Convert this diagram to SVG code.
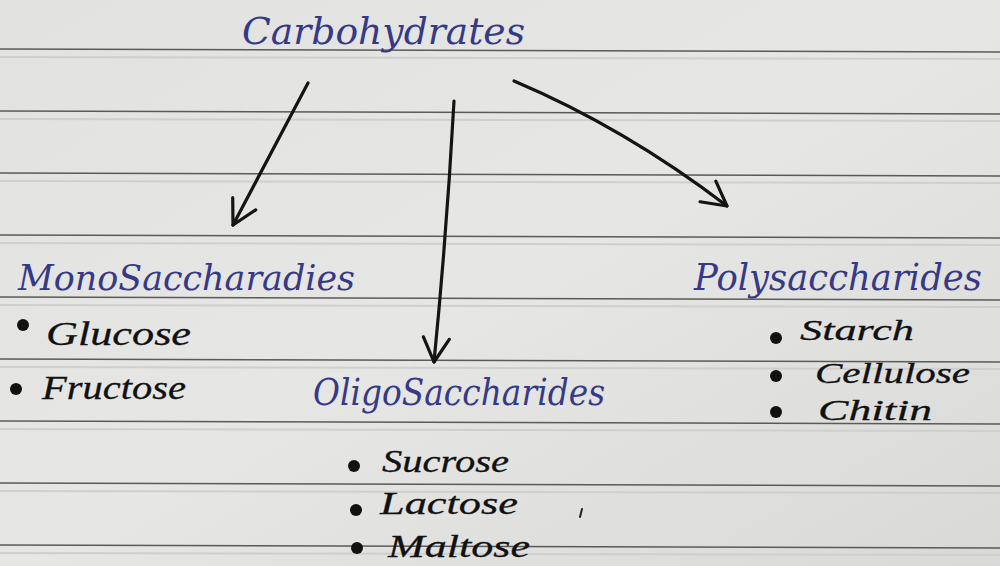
<svg xmlns="http://www.w3.org/2000/svg" width="1000" height="566" viewBox="0 0 1000 566">
  <defs>
    <linearGradient id="paper" x1="0" y1="0" x2="1" y2="1">
      <stop offset="0" stop-color="#e2e2e0"/>
      <stop offset="0.5" stop-color="#e6e6e4"/>
      <stop offset="1" stop-color="#d9d9d7"/>
    </linearGradient>
    <marker id="head" viewBox="0 0 30 30" refX="27" refY="15" markerWidth="30" markerHeight="30" markerUnits="userSpaceOnUse" orient="auto">
      <path d="M3,2 L27,15 L3,28" fill="none" stroke="#141414" stroke-width="3.2" stroke-linecap="round" stroke-linejoin="round"/>
    </marker>
    <style>
      .rule { stroke: #5a5a58; stroke-width: 1.6; }
      .rule2 { stroke: #cfcfcd; stroke-width: 2; }
      .head { font-family: "DejaVu Serif", "Liberation Serif", serif; font-style: italic; fill: #363a86; }
      .item { font-family: "Liberation Serif", "DejaVu Serif", serif; font-style: italic; fill: #111111; stroke: #111111; stroke-width: 0.3; }
      .dot { fill: #111111; }
      .conn { fill: none; stroke: #141414; stroke-width: 3.2; stroke-linecap: round; marker-end: url(#head); }
    </style>
  </defs>

  <rect x="0" y="0" width="1000" height="566" fill="url(#paper)"/>

  <g id="ruled-lines">
    <line class="rule2" x1="0" y1="57" x2="1000" y2="59"/>
    <line class="rule2" x1="0" y1="119" x2="1000" y2="121"/>
    <line class="rule2" x1="0" y1="181" x2="1000" y2="183"/>
    <line class="rule2" x1="0" y1="243" x2="1000" y2="245"/>
    <line class="rule2" x1="0" y1="305" x2="1000" y2="307"/>
    <line class="rule2" x1="0" y1="367" x2="1000" y2="369"/>
    <line class="rule2" x1="0" y1="429" x2="1000" y2="431"/>
    <line class="rule2" x1="0" y1="491" x2="1000" y2="493"/>
    <line class="rule2" x1="0" y1="553" x2="1000" y2="555"/>
    <line class="rule" x1="0" y1="49" x2="1000" y2="52"/>
    <line class="rule" x1="0" y1="111" x2="1000" y2="114"/>
    <line class="rule" x1="0" y1="173" x2="1000" y2="176"/>
    <line class="rule" x1="0" y1="235" x2="1000" y2="238"/>
    <line class="rule" x1="0" y1="297" x2="1000" y2="300"/>
    <line class="rule" x1="0" y1="359" x2="1000" y2="362"/>
    <line class="rule" x1="0" y1="421" x2="1000" y2="424"/>
    <line class="rule" x1="0" y1="483" x2="1000" y2="486"/>
    <line class="rule" x1="0" y1="545" x2="1000" y2="548"/>
  </g>

  <g id="connectors">
    <path class="conn" d="M308,83 L233,225"/>
    <path class="conn" d="M454,101 Q447,230 434,362"/>
    <path class="conn" d="M514,81 Q625,128 727,206"/>
  </g>

  <g id="carbohydrates">
    <text class="head" x="242" y="44" font-size="38" textLength="283" lengthAdjust="spacingAndGlyphs">Carbohydrates</text>
  </g>

  <g id="monosaccharides">
    <text class="head" x="18" y="290" font-size="36" textLength="337" lengthAdjust="spacingAndGlyphs">MonoSaccharadies</text>
    <circle class="dot" cx="23" cy="325" r="6"/>
    <text class="item" x="46" y="345" font-size="34" textLength="145" lengthAdjust="spacingAndGlyphs">Glucose</text>
    <circle class="dot" cx="16" cy="389" r="6"/>
    <text class="item" x="42" y="399" font-size="34" textLength="144" lengthAdjust="spacingAndGlyphs">Fructose</text>
  </g>

  <g id="oligosaccharides">
    <text class="head" x="313" y="405" font-size="38" textLength="292" lengthAdjust="spacingAndGlyphs">OligoSaccharides</text>
    <circle class="dot" cx="354" cy="466" r="6"/>
    <text class="item" x="382" y="472" font-size="32" textLength="127" lengthAdjust="spacingAndGlyphs">Sucrose</text>
    <circle class="dot" cx="356" cy="510" r="6"/>
    <text class="item" x="380" y="514" font-size="32" textLength="138" lengthAdjust="spacingAndGlyphs">Lactose</text>
    <circle class="dot" cx="357" cy="548" r="6"/>
    <text class="item" x="388" y="557" font-size="32" textLength="142" lengthAdjust="spacingAndGlyphs">Maltose</text>
    <path d="M582,509 L580,517" stroke="#222" stroke-width="2" stroke-linecap="round"/>
  </g>

  <g id="polysaccharides">
    <text class="head" x="694" y="290" font-size="37" textLength="288" lengthAdjust="spacingAndGlyphs">Polysaccharides</text>
    <circle class="dot" cx="776" cy="338" r="6"/>
    <text class="item" x="800" y="340" font-size="30" textLength="114" lengthAdjust="spacingAndGlyphs">Starch</text>
    <circle class="dot" cx="776" cy="376" r="6"/>
    <text class="item" x="815" y="383" font-size="30" textLength="155" lengthAdjust="spacingAndGlyphs">Cellulose</text>
    <circle class="dot" cx="776" cy="412" r="6"/>
    <text class="item" x="818" y="420" font-size="30" textLength="114" lengthAdjust="spacingAndGlyphs">Chitin</text>
  </g>
</svg>
